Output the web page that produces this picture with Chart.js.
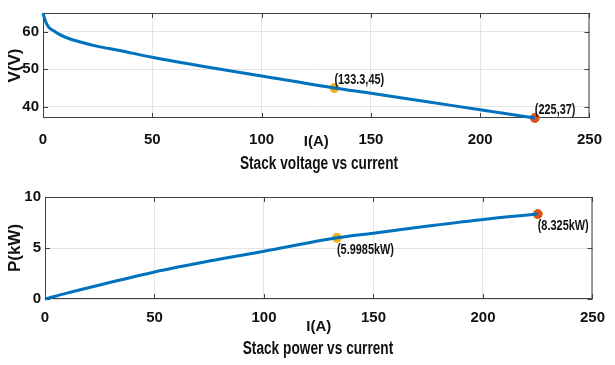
<!DOCTYPE html>
<html lang="en">
<head>
  <meta charset="utf-8">
  <title>Stack voltage and power vs current</title>
  <style>
    body {
      margin: 0;
      background: #ffffff;
      width: 615px;
      height: 365px;
      position: relative;
      overflow: hidden;
      font-family: 'Liberation Sans', Arial, sans-serif;
    }
    canvas { position: absolute; left: 0; }
    #vChart { top: 0; }
    #pChart { top: 175px; }
    .caption {
      position: absolute;
      transform: translate(-50%, -50%) scaleX(0.76);
      font-weight: bold;
      font-size: 18px;
      color: #111;
      white-space: nowrap;
    }
  </style>
</head>
<body>
  <canvas id="vChart" width="615" height="180"></canvas>
  <canvas id="pChart" width="615" height="190"></canvas>
  <div class="caption" style="left:319px; top:163px;">Stack voltage vs current</div>
  <div class="caption" style="left:318px; top:348px;">Stack power vs current</div>

  <script src="https://cdn.jsdelivr.net/npm/chart.js@4.4.1/dist/chart.umd.min.js"></script>
  <script>
    // valores
    var currentV = [0, 1, 2.5, 5, 7.5, 10, 15, 20, 25, 35, 50, 75, 100, 133.3, 150, 175, 200, 225];
    var voltage  = [65, 63, 61.3, 60.2, 59.3, 58.6, 57.6, 56.8, 56.1, 55, 53.2, 50.6, 48.2, 45, 43.6, 41.4, 39.2, 37];

    var currentP = [0, 10, 25, 50, 75, 100, 133.3, 150, 175, 200, 225];
    var power    = [0, 0.58, 1.38, 2.65, 3.72, 4.68, 5.9985, 6.45, 7.15, 7.8, 8.325];

    var markCurrent = [133.3, 225];
    var markVoltage = [45, 37];
    var markPower = [5.9985, 8.325];
    var markColors = ['#EDB120', '#D95319'];
    var vLabels = ['(133.3,45)', '(225,37)'];
    var pLabels = ['(5.9985kW)', '(8.325kW)'];

    var xTicks = [0, 50, 100, 150, 200, 250];
    var vTicks = [40, 50, 60];
    var pTicks = [0, 5, 10];

    var fontName = "'Liberation Sans', Arial, sans-serif";

    function toPoints(xs, ys) {
      return xs.map(function (x, i) { return { x: x, y: ys[i] }; });
    }

    // moldura com marcas para dentro (estilo MATLAB)
    var framePlugin = {
      id: 'frame',
      beforeDatasetsDraw: function (chart) {
        var ctx = chart.ctx, a = chart.chartArea;
        var xs = chart.scales.x, ys = chart.scales.y;
        ctx.save();
        ctx.strokeStyle = '#404040';
        ctx.lineWidth = 1;
        ctx.strokeRect(a.left + 0.5, a.top + 0.5, a.width - 1, a.height - 1);
        ctx.beginPath();
        xs.ticks.forEach(function (t) {
          var px = Math.round(xs.getPixelForValue(t.value)) + 0.5;
          ctx.moveTo(px, a.top); ctx.lineTo(px, a.top + 5);
          ctx.moveTo(px, a.bottom); ctx.lineTo(px, a.bottom - 5);
        });
        ys.ticks.forEach(function (t) {
          var py = Math.round(ys.getPixelForValue(t.value)) + 0.5;
          ctx.moveTo(a.left, py); ctx.lineTo(a.left + 5, py);
          ctx.moveTo(a.right, py); ctx.lineTo(a.right - 5, py);
        });
        ctx.stroke();
        ctx.restore();
      }
    };

    function labelPlugin(values, texts, below) {
      return {
        id: 'pointLabels',
        afterDatasetsDraw: function (chart) {
          var ctx = chart.ctx;
          markCurrent.forEach(function (c, i) {
            var px = chart.scales.x.getPixelForValue(c);
            var py = chart.scales.y.getPixelForValue(values[i]);
            ctx.save();
            ctx.font = 'bold 14px ' + fontName;
            ctx.fillStyle = '#111';
            ctx.textAlign = 'left';
            ctx.textBaseline = below ? 'top' : 'bottom';
            ctx.translate(px, below ? py + 5 : py - 1);
            ctx.scale(0.78, 1);
            ctx.fillText(texts[i], 0, 0);
            ctx.restore();
          });
        }
      };
    }

    function makeChart(id, xs, ys, markVals, yMin, yMax, yTickVals, yTitle, pad, yWidth, xHeight, tickPad, titlePad, labels, below) {
      var datasets = [{
        data: toPoints(xs, ys),
        borderColor: '#0072BD',
        borderWidth: 3,
        pointRadius: 0,
        cubicInterpolationMode: 'monotone',
        clip: false
      }];
      markVals.forEach(function (v, i) {
        datasets.push({
          data: [{ x: markCurrent[i], y: v }],
          showLine: false,
          pointRadius: 4.5,
          pointBackgroundColor: markColors[i],
          pointBorderColor: markColors[i],
          clip: false
        });
      });
      return new Chart(document.getElementById(id), {
        type: 'line',
        data: { datasets: datasets },
        options: {
          responsive: false,
          animation: false,
          layout: { padding: pad },
          plugins: { legend: { display: false }, tooltip: { enabled: false } },
          scales: {
            x: {
              type: 'linear',
              min: 0,
              max: 250,
              afterBuildTicks: function (s) { s.ticks = xTicks.map(function (v) { return { value: v }; }); },
              afterFit: function (s) { s.height = xHeight; },
              grid: { color: '#e4e4e4', drawTicks: false },
              border: { display: false },
              ticks: { padding: tickPad, color: '#111', font: { family: fontName, size: 15, weight: 'bold' }, maxRotation: 0 },
              title: { display: true, text: 'I(A)', color: '#111', padding: { top: 0, bottom: titlePad }, font: { family: fontName, size: 15, weight: 'bold' } }
            },
            y: {
              min: yMin,
              max: yMax,
              afterBuildTicks: function (s) { s.ticks = yTickVals.map(function (v) { return { value: v }; }); },
              afterFit: function (s) { s.width = yWidth; },
              grid: { color: '#e4e4e4', drawTicks: false },
              border: { display: false },
              ticks: { padding: 4, color: '#111', font: { family: fontName, size: 15, weight: 'bold' } },
              title: { display: true, text: yTitle, color: '#111', padding: { top: 5, bottom: 0 }, font: { family: fontName, size: 17, weight: 'bold' } }
            }
          }
        },
        plugins: [framePlugin, labelPlugin(markVals, labels, below)]
      });
    }

    makeChart('vChart', currentV, voltage, markVoltage, 37, 65, vTicks, 'V(V)',
      { left: 0, right: 11, top: 6, bottom: 0 }, 43, 62, 13, 29, vLabels, false);
    makeChart('pChart', currentP, power, markPower, 0, 10, pTicks, 'P(kW)',
      { left: 0, right: 10, top: 22, bottom: 0 }, 45, 66, 10, 29, pLabels, true);
  </script>
</body>
</html>
